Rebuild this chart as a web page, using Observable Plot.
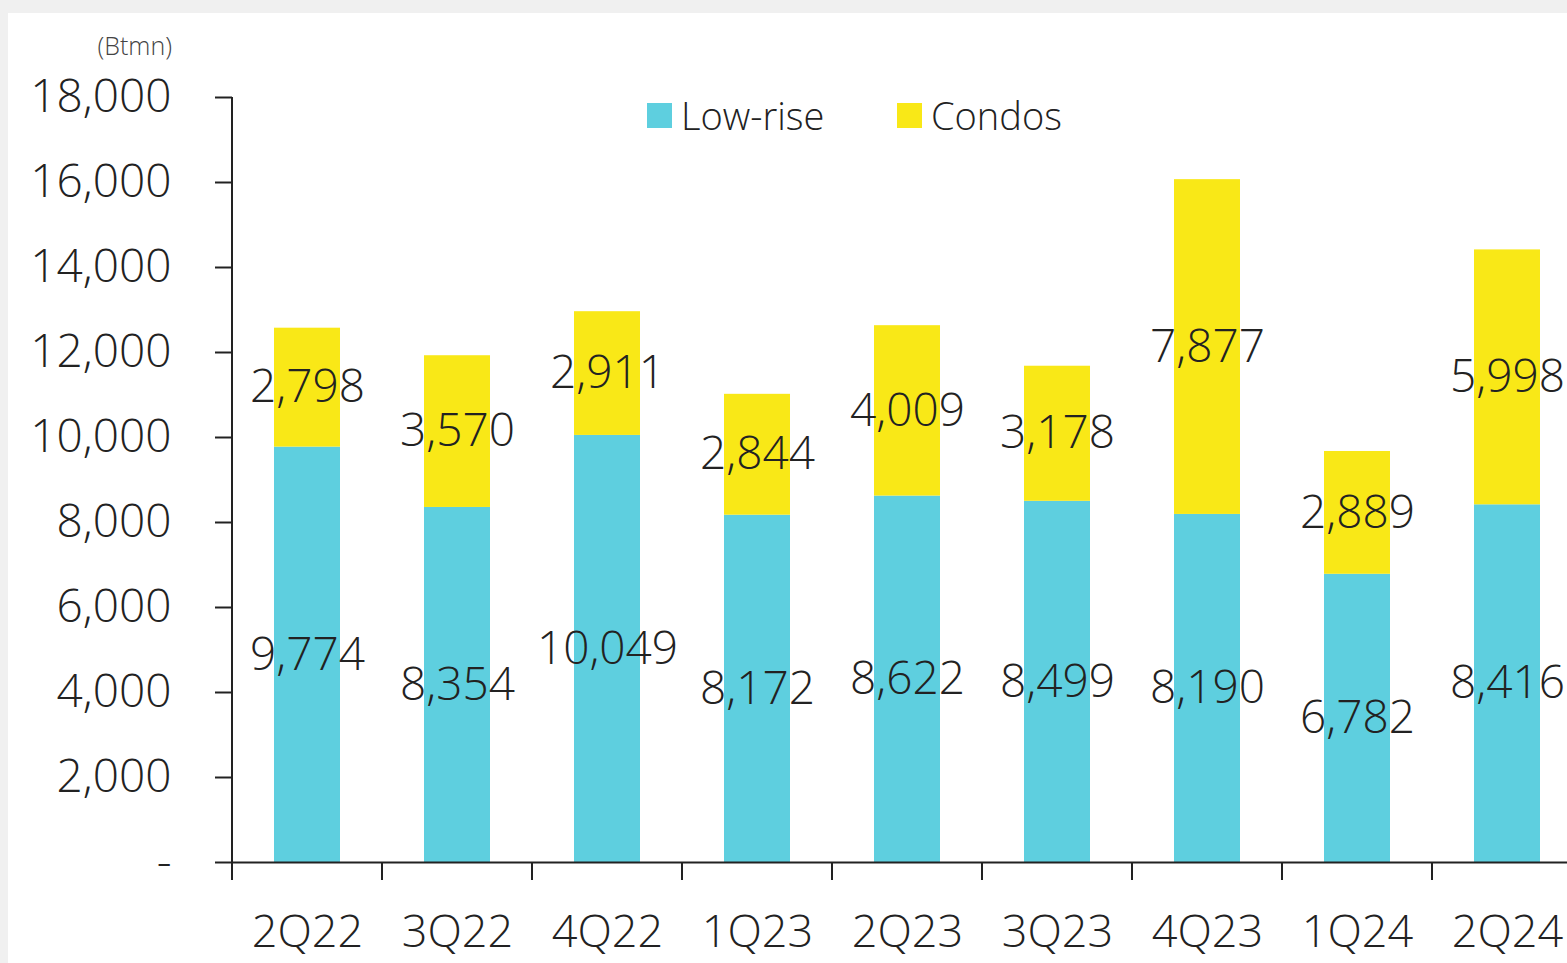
<!DOCTYPE html>
<html>
<head>
<meta charset="utf-8">
<script src="https://cdn.jsdelivr.net/npm/d3@7"></script>
<script src="https://cdn.jsdelivr.net/npm/@observablehq/plot@0.6"></script>
<style>
  html, body { margin: 0; padding: 0; overflow: hidden; background: #f0f0f0; }
  body { width: 1567px; height: 963px; position: relative; font-family: "Open Sans", sans-serif; font-weight: 350; }
  #panel { position: absolute; left: 8px; top: 13px; right: 0; bottom: 0; background: #fff; }
  #chart { position: absolute; left: 0; top: 0; width: 1582px; }
  #chart svg { max-width: none !important; }
  #unit { position: absolute; right: calc(1567px - 172px); top: 28px; font-size: 25px; color: #444; }
  .leg { position: absolute; top: 89px; font-size: 38px; color: #222; display: flex; align-items: center; }
  .sw { width: 25px; height: 25px; margin-right: 9px; }
</style>
</head>
<body>
<div id="panel"></div>
<div id="chart"></div>
<div id="unit">(Btmn)</div>
<div class="leg" style="left:647px"><span class="sw" style="background:#5ECFDF"></span>Low-rise</div>
<div class="leg" style="left:897px"><span class="sw" style="background:#F9E817"></span>Condos</div>
<script>
const categories = ["2Q22","3Q22","4Q22","1Q23","2Q23","3Q23","4Q23","1Q24","2Q24"];
const lowRise = [9774, 8354, 10049, 8172, 8622, 8499, 8190, 6782, 8416];
const condos  = [2798, 3570, 2911, 2844, 4009, 3178, 7877, 2889, 5998];
const seriesNames = ["Low-rise", "Condos"];
const seriesColors = ["#5ECFDF", "#F9E817"];
const yTicks = [0, 2000, 4000, 6000, 8000, 10000, 12000, 14000, 16000, 18000];

const data = [];
categories.forEach((q, i) => {
  data.push({q, series: "Low-rise", value: lowRise[i]});
  data.push({q, series: "Condos", value: condos[i]});
});

const fmt = d3.format(",");
const font = "'Open Sans', sans-serif";

// boundary ticks on the x axis + y axis line
function axisLines(index, scales, values, dimensions) {
  const g = d3.create("svg:g").attr("stroke", "#222").attr("stroke-width", 2);
  const x = scales.x, y = scales.y;
  const bw = x.bandwidth ? x.bandwidth() : 0;
  const step = x(categories[1]) - x(categories[0]);
  const base = y(0);
  const bounds = categories.map(c => x(c) + bw / 2 - step / 2);
  bounds.push(x(categories[categories.length - 1]) + bw / 2 + step / 2);
  for (const b of bounds) {
    g.append("line").attr("x1", b).attr("x2", b).attr("y1", base).attr("y2", base + 18);
  }
  g.append("line")
    .attr("x1", dimensions.marginLeft).attr("x2", dimensions.marginLeft)
    .attr("y1", y(18000)).attr("y2", base);
  return g.node();
}

const chart = Plot.plot({
  width: 1582,
  height: 963,
  marginLeft: 232,
  marginRight: 0,
  marginTop: 97,
  marginBottom: 101,
  style: {background: "transparent", fontFamily: font, fontWeight: 350, fontSize: "44px", color: "#222", maxWidth: "none"},
  x: {domain: categories, paddingInner: 0.56, paddingOuter: 0.28, label: null},
  y: {domain: [0, 18000], label: null},
  color: {domain: seriesNames, range: seriesColors},
  marks: [
    Plot.barY(data, {x: "q", y: "value", fill: "series"}),
    Plot.axisY({ticks: yTicks, tickSize: 17, tickPadding: 44, strokeWidth: 2,
      tickFormat: d => d === 0 ? "-" : fmt(d), fontSize: 46, label: null}),
    Plot.axisX({tickSize: 0, tickPadding: 53, fontSize: 45, label: null}),
    Plot.ruleY([0], {stroke: "#222", strokeWidth: 2}),
    axisLines,
    Plot.text(data, Plot.stackY({x: "q", y: "value", z: "series",
      text: d => fmt(d.value), fill: "#222", fontSize: 46}))
  ]
});
document.getElementById("chart").appendChild(chart);
</script>
</body>
</html>
